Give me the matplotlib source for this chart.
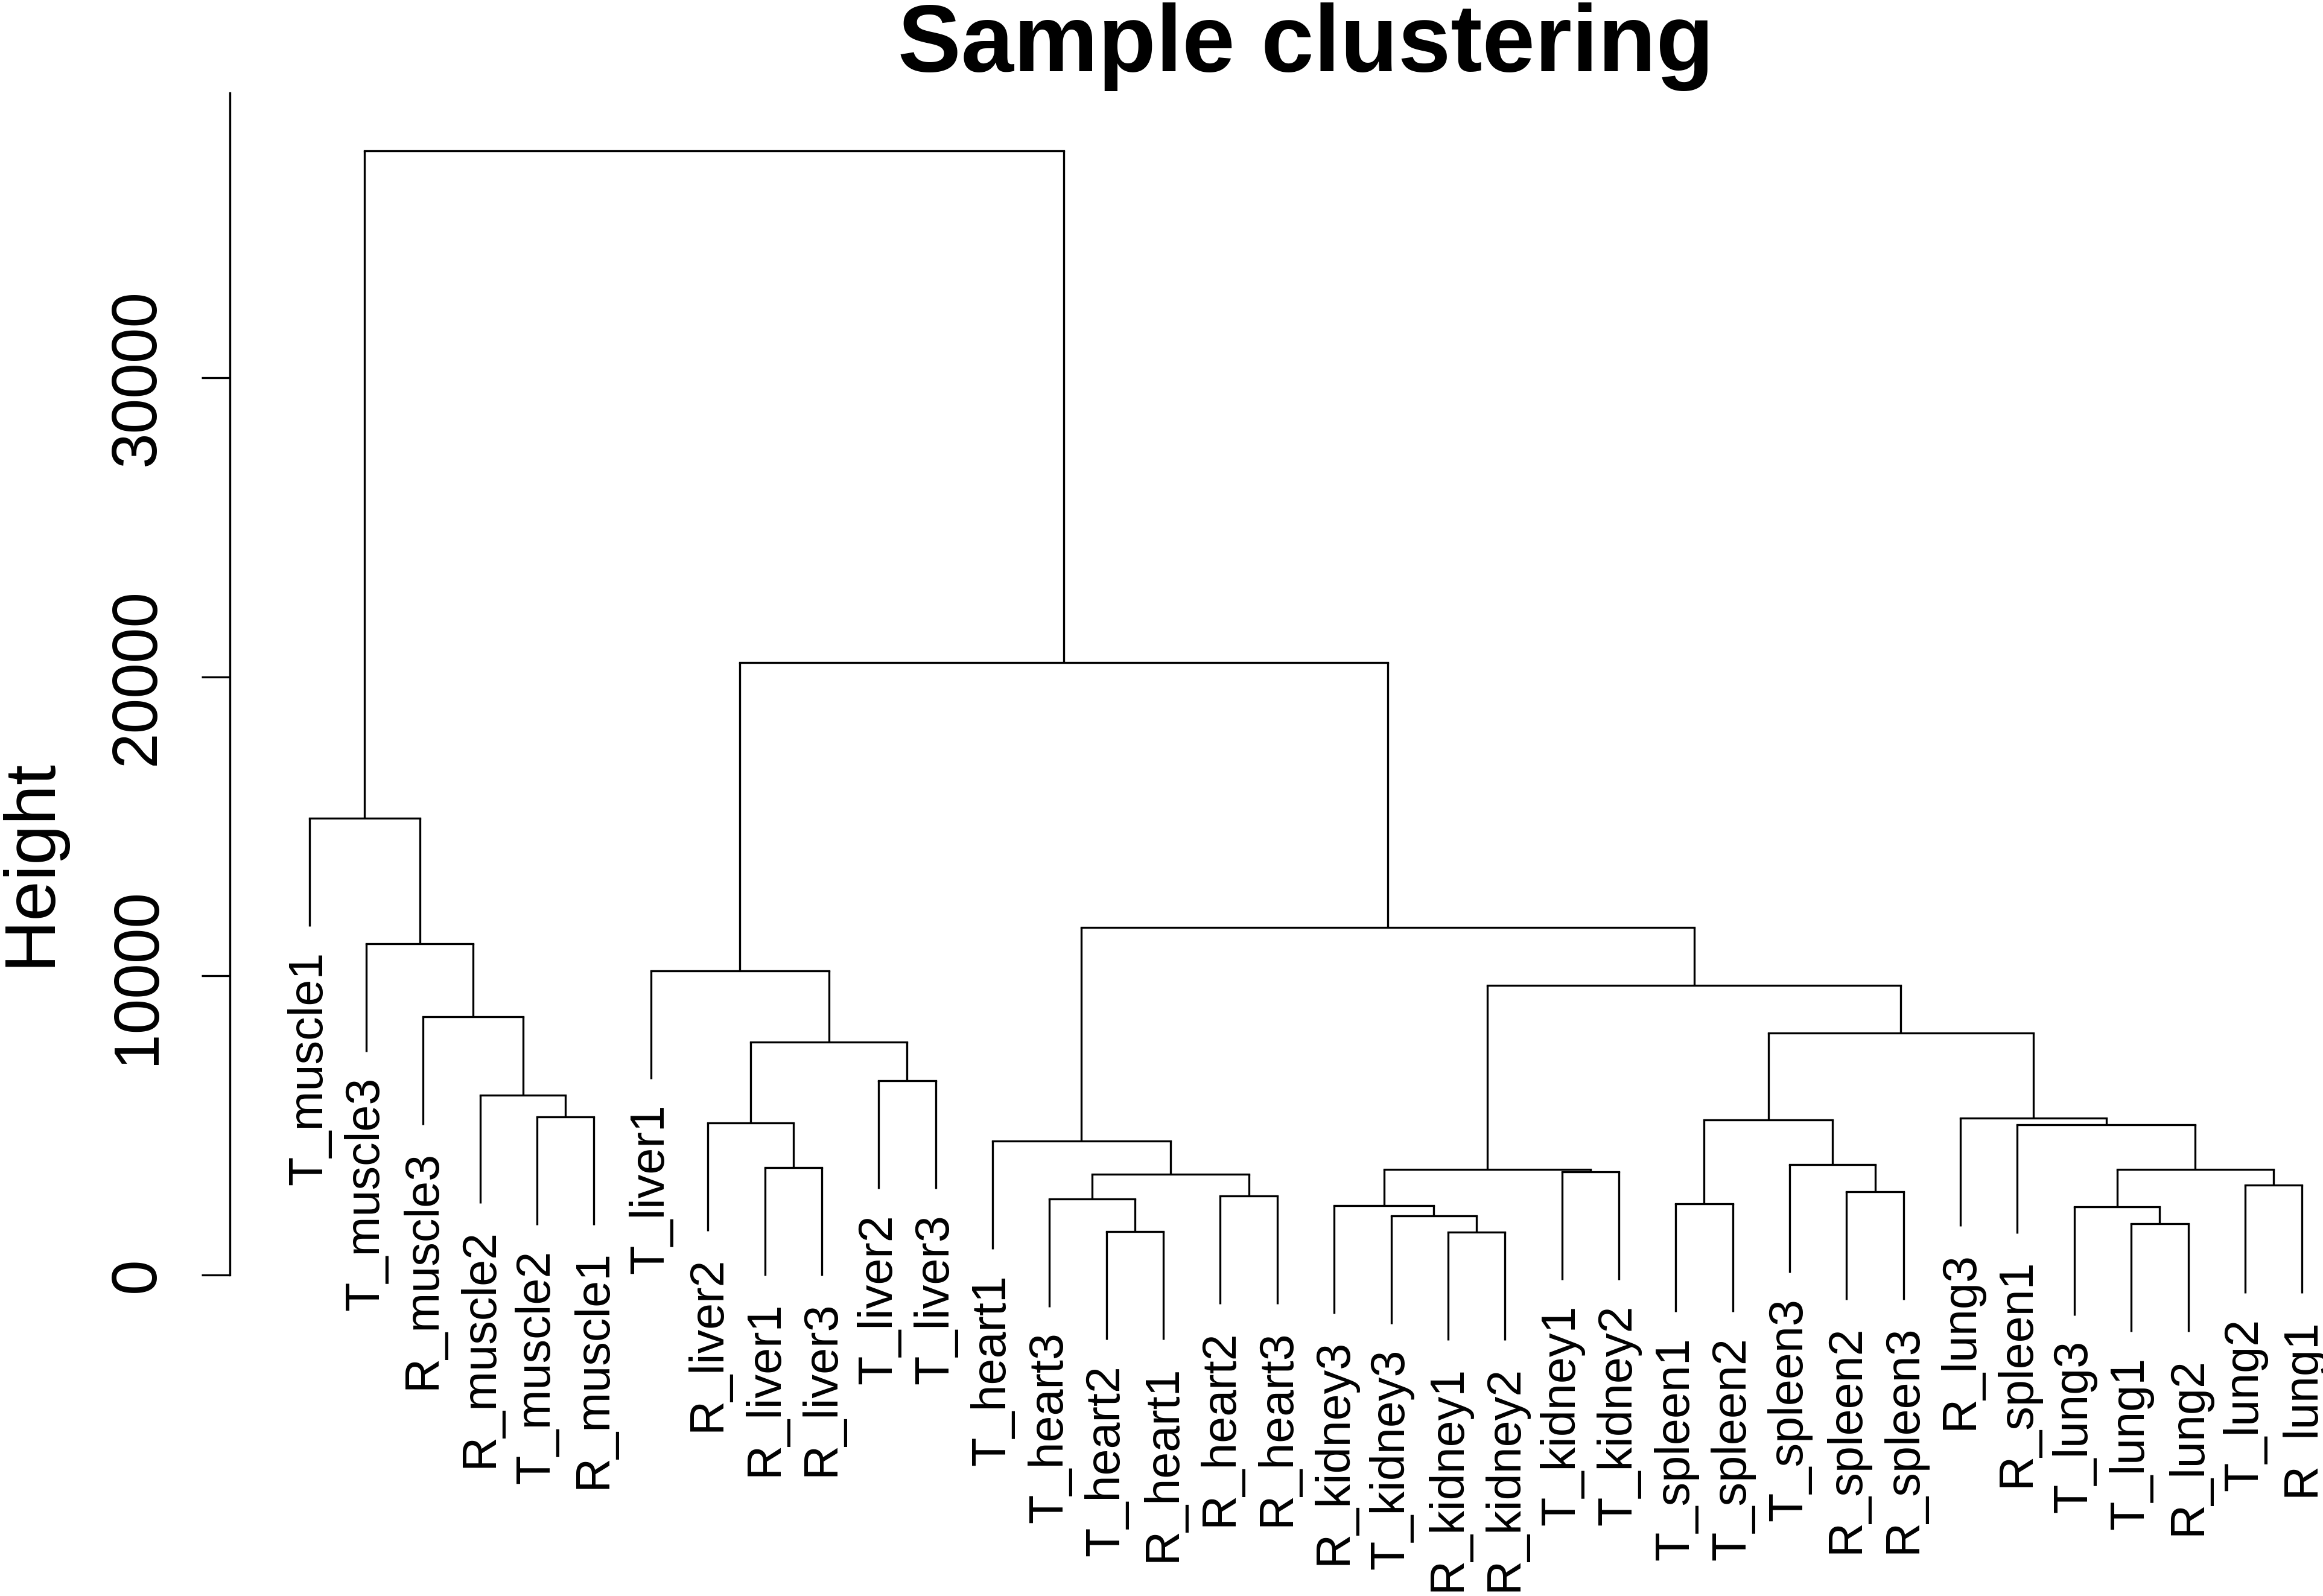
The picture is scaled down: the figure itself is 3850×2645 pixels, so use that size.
import matplotlib
matplotlib.use("Agg")
import matplotlib.pyplot as plt

plt.rcParams['font.family'] = ['Liberation Sans', 'DejaVu Sans']

# leaf labels in plotting order
labels = ["T_muscle1", "T_muscle3", "R_muscle3", "R_muscle2", "T_muscle2", "R_muscle1",
          "T_liver1", "R_liver2", "R_liver1", "R_liver3", "T_liver2", "T_liver3",
          "T_heart1", "T_heart3", "T_heart2", "R_heart1", "R_heart2", "R_heart3",
          "R_kidney3", "T_kidney3", "R_kidney1", "R_kidney2", "T_kidney1", "T_kidney2",
          "T_spleen1", "T_spleen2", "T_spleen3", "R_spleen2", "R_spleen3",
          "R_lung3", "R_spleen1", "T_lung3", "T_lung1", "R_lung2", "T_lung2", "R_lung1"]

# merge table, R hclust style: negative = leaf number, positive = earlier merge row
merge_left = [-5, -4, -3, -2, -1,
              -9, -8, -11, 7, -7,
              -15, -14, -17, 12, -13,
              -21, -20, -19, -23, 18,
              -25, -28, -27, 21,
              -33, -32, -35, 26, -31, -30,
              24, 20, 15, 10, 5]
merge_right = [-6, 1, 2, 3, 4,
               -10, 6, -12, 8, 9,
               -16, 11, -18, 13, 14,
               -22, 16, 17, -24, 19,
               -26, -29, 22, 23,
               -34, 25, -36, 27, 28, 29,
               30, 31, 32, 33, 34]
merge_height = [5292, 6015, 8627, 11074, 15276,
                3592, 5079, 6486, 7789, 10173,
                1442, 2547, 2636, 3374, 4474,
                1427, 1977, 2314, 3454, 3523,
                2373, 2780, 3691, 5183,
                1709, 2269, 3003, 3523, 5010, 5247,
                8092, 9677, 11610, 20479, 37574]

yticks = [0, 10000, 20000, 30000]

W, H = 1568.0, 1077.0   # layout units (reference at reduced scale)
fig = plt.figure(figsize=(38.5, 26.45), dpi=100)

val_per_px = 49.55
y0_px = 860.3
top_px = 62.7
ytop = (y0_px - top_px) * val_per_px
ybot = -2500
bot_px = y0_px - ybot / val_per_px

ax_left = 155 / W
ax = fig.add_axes([ax_left, 1 - bot_px / H, 1 - ax_left, (bot_px - top_px) / H])
ax.set_xlim(-0.4, -0.4 + (W - 155) / 38.43)
ax.set_ylim(ybot, ytop)

lw = 2.4
hang = 0.1 * (max(merge_height) - min(merge_height))

xpos = {}
for i in range(len(merge_height)):
    h = merge_height[i]
    kids = []
    for c in (merge_left[i], merge_right[i]):
        if c < 0:
            x = -c
            low = h - hang
            ax.annotate(labels[-c - 1], xy=(x, low), xytext=(0, -30), textcoords='offset points',
                        rotation=90, ha='center', va='top', fontsize=57, annotation_clip=False)
        else:
            x = xpos[c]
            low = merge_height[c - 1]
        ax.plot([x, x], [low, h], color='black', lw=lw, solid_capstyle='butt')
        kids.append(x)
    ax.plot(kids, [h, h], color='black', lw=lw, solid_capstyle='projecting')
    xpos[i + 1] = sum(kids) / 2

for s in ['top', 'right', 'bottom']:
    ax.spines[s].set_visible(False)
ax.spines['left'].set_linewidth(lw)
ax.spines['left'].set_bounds(0, ytop)
ax.set_xticks([])
ax.set_yticks(yticks)
ax.set_yticklabels([str(v) for v in yticks], rotation=90, va='center', fontsize=76)
ax.tick_params(axis='y', length=34, width=lw, pad=40)
ax.patch.set_visible(False)

fig.text(21 / W, 1 - 582 / H, "Height", rotation=90, ha='center', va='center', fontsize=86)
fig.text(881.5 / W, 1 - 48 / H, "Sample clustering", ha='center', va='baseline',
         fontsize=113, fontweight='bold')

fig.savefig("out.png", dpi=100, facecolor='white')
